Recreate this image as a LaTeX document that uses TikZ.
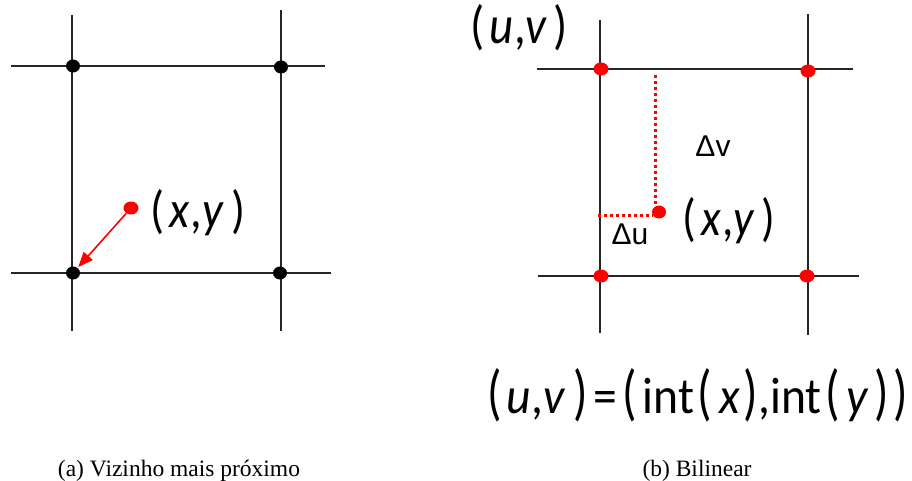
\documentclass[tikz,border=0pt]{standalone}
\usepackage{fontspec}
\usepackage{graphicx}
\setmainfont{Liberation Serif}
\newfontfamily\carl{Carlito}
\newfontfamily\arl{Liberation Sans}
\usetikzlibrary{arrows.meta,shapes.geometric}
\newcommand{\tallp}[1]{\scalebox{1}[1.2]{#1}}
\newcommand{\gap}[1]{\hspace{#1em}}
\tikzset{
  gridline/.style={line width=1.3pt, draw=black!85},
  bdot/.style={ellipse, fill=black, minimum width=14pt, minimum height=13pt, inner sep=0pt},
  rdot/.style={ellipse, fill=red, minimum width=15pt, minimum height=13pt, inner sep=0pt},
  pdot/.style={ellipse, fill=red, minimum width=15pt, minimum height=13pt, inner sep=0pt},
  rdotted/.style={draw=red, line width=3pt, dash pattern=on 3pt off 3pt},
  mathlbl/.style={inner sep=0pt, anchor=base west, font=\carl\fontsize{48}{50}\selectfont},
  dlbl/.style={inner sep=0pt, font=\arl\fontsize{30}{32}\selectfont},
  caption/.style={inner sep=0pt, font=\fontsize{23.5}{26}\selectfont},
}
\begin{document}
\begin{tikzpicture}[x=1pt,y=-1pt]
\useasboundingbox (0,0) rectangle (912,481);
% ---------- left panel ----------
\coordinate (lh1a) at (11,66);  \coordinate (lh1b) at (325,66);
\coordinate (lh2a) at (11,273); \coordinate (lh2b) at (331,273);
\coordinate (lv1a) at (72,15);  \coordinate (lv1b) at (72,331);
\coordinate (lv2a) at (281,10); \coordinate (lv2b) at (281,331);
\draw[gridline] (lh1a) -- (lh1b);
\draw[gridline] (lh2a) -- (lh2b);
\draw[gridline] (lv1a) -- (lv1b);
\draw[gridline] (lv2a) -- (lv2b);
\node[bdot] (a11) at (73,66) {};
\node[bdot] (a12) at (281,67) {};
\node[bdot] (a21) at (73,273) {};
\node[bdot] (a22) at (280,273) {};
\node[pdot] (ap) at (131,208) {};
\draw[red, line width=1.6pt, -{Triangle[length=15pt,width=12pt]}, shorten >=1pt] (ap) -- (a21);
\node[mathlbl] (axy) at (150,227)
  {\resizebox{95pt}{38pt}{(\gap{0.12}\textit{x}\gap{0.02},\textit{y}\gap{0.15})}};
% ---------- right panel ----------
\coordinate (rh1a) at (537,69);  \coordinate (rh1b) at (853,69);
\coordinate (rh2a) at (538,276); \coordinate (rh2b) at (859,276);
\coordinate (rv1a) at (600,20);  \coordinate (rv1b) at (600,333);
\coordinate (rv2a) at (808,14);  \coordinate (rv2b) at (808,335);
\draw[gridline] (rh1a) -- (rh1b);
\draw[gridline] (rh2a) -- (rh2b);
\draw[gridline] (rv1a) -- (rv1b);
\draw[gridline] (rv2a) -- (rv2b);
\node[rdot] (b11) at (601,69) {};
\node[rdot] (b12) at (808,71) {};
\node[rdot] (b21) at (601,276) {};
\node[rdot] (b22) at (807,276) {};
\node[pdot, minimum width=14pt] (bp) at (659,212) {};
\coordinate (dvtop) at (655,75);
\coordinate (dvbot) at (655,204);
\coordinate (dhl) at (598,215);
\coordinate (dhr) at (653,215);
\draw[rdotted] (dvtop) -- (dvbot);
\draw[rdotted] (dhl) -- (dhr);
\node[dlbl] (dv) at (713,146) {Δv};
\node[dlbl] (du) at (630,234) {Δu};
\node[mathlbl] (bxy) at (682,235)
  {\resizebox{93pt}{38pt}{(\gap{0.12}\textit{x}\gap{0.02},\textit{y}\gap{0.15})}};
\node[mathlbl] (buv) at (470,44)
  {\resizebox{97pt}{39pt}{(\gap{0.1}\textit{u}\gap{0.02},\textit{v}\gap{0.12})}};
\node[mathlbl] (formula) at (487,413)
  {\resizebox{421pt}{45pt}{\tallp{(}\gap{0.1}\textit{u}\gap{0.02},\textit{v}\gap{0.15}\tallp{)}\gap{0.12}=\gap{0.12}\tallp{(}\gap{0.12}int\gap{0.08}\tallp{(}\gap{0.14}\textit{x}\gap{0.08}\tallp{)},int\gap{0.08}\tallp{(}\gap{0.14}\textit{y}\gap{0.12}\tallp{)}\gap{0.1}\tallp{)}}};
% ---------- captions ----------
\node[caption, anchor=base] (capa) at (179,476) {(a) Vizinho mais próximo};
\node[caption, anchor=base] (capb) at (697,476) {(b) Bilinear};
\end{tikzpicture}
\end{document}
